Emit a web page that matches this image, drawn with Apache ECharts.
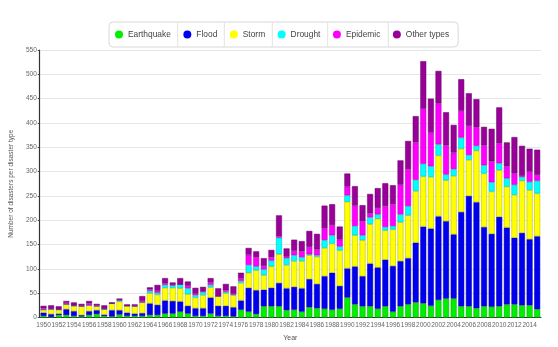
<!DOCTYPE html>
<html><head><meta charset="utf-8">
<script src="https://cdn.jsdelivr.net/npm/echarts@6/dist/echarts.min.js"></script>
<style>html,body{margin:0;padding:0;background:#fff}#c{width:558px;height:347px}</style>
</head><body><div id="c"></div>
<script>
const years = [];
for (let y = 1950; y <= 2015; y++) years.push(String(y));
const seriesNames = ['Earthquake','Flood','Storm','Drought','Epidemic','Other types'];
const earthquake = [3,1,5,5,3,2,5,7,3,2, 6,3,3,3,5,5,8,8,12,8, 3,3,8,3,3,2,16,12,7,23, 23,23,15,16,12,21,19,18,16,18, 41,27,23,23,18,23,12,23,27,31, 29,24,36,39,39,23,23,19,23,22, 23,27,27,25,25,17];
const flood = [7,6,3,12,10,3,8,8,3,13, 9,7,5,6,24,21,27,26,21,16, 16,16,33,21,21,19,19,49,49,34, 38,48,45,47,48,58,50,67,76,47, 60,78,62,88,85,96,94,93,95,123, 158,159,172,159,132,194,227,218,163,150, 184,158,137,149,136,150];
const storm = [6,10,8,10,11,18,12,8,11,14, 18,14,15,22,21,21,26,27,27,24, 22,27,21,20,26,25,36,31,41,30, 44,59,48,53,56,49,56,58,60,73, 137,64,74,81,100,60,75,80,88,106, 103,106,125,84,120,130,74,106,110,87, 96,84,88,107,101,88];
const drought = [0,0,0,0,0,0,0,0,0,0, 2,0,0,0,5,4,6,5,8,12, 5,6,5,0,3,1,4,16,8,12, 12,34,14,12,8,2,3,16,17,8, 13,19,10,14,9,7,7,16,19,23, 26,22,23,12,14,23,10,10,17,19, 14,17,21,8,17,26];
const epidemic = [3,1,1,3,1,1,4,2,1,0, 1,0,1,3,3,4,3,1,0,5, 3,2,5,0,3,2,5,21,19,7, 7,3,3,9,12,15,12,24,21,14, 18,42,29,8,13,43,45,61,76,77, 113,69,84,60,34,55,60,38,41,43, 41,25,23,2,21,12];
const other = [5,7,6,4,6,4,5,3,7,2, 3,3,3,10,4,12,11,5,13,9, 12,9,9,16,13,15,12,14,12,16, 15,43,17,23,21,33,32,47,43,27, 27,40,33,40,41,47,39,50,58,54, 98,70,67,68,57,65,67,58,38,67, 74,49,75,62,47,52];
const yTicks = {min: 0, max: 550, step: 50};

const colors = ['#00ee00','#0000f0','#ffff00','#00ffff','#ff00ff','#990099'];
const borders = ['#00a000','#00009a','#b0b000','#00b0b0','#b000b0','#600060'];
const values = [earthquake, flood, storm, drought, epidemic, other];

const chart = echarts.init(document.getElementById('c'));
const font = "'Liberation Sans', Arial, sans-serif";
chart.setOption({
  animation: false,
  textStyle: {fontFamily: font},
  color: colors,
  legend: {
    left: 109, top: 22,
    padding: [7, 9, 7, 6],
    itemGap: 12.5,
    itemWidth: 8, itemHeight: 8,
    icon: 'circle',
    itemStyle: {borderWidth: 0},
    borderColor: '#d8d8d8', borderWidth: 1, borderRadius: 4,
    backgroundColor: '#fff',
    textStyle: {fontSize: 8.4, color: '#444', fontFamily: font, lineHeight: 11},
    data: seriesNames
  },
  graphic: [177.7, 224.3, 272.3, 327.7, 388.3].map(x => ({
    type: 'line', shape: {x1: x, y1: 22, x2: x, y2: 47},
    style: {stroke: '#e2e2e2', lineWidth: 1}, z: 100
  })),
  grid: {left: 36, right: 17, top: 50, bottom: 29.5},
  xAxis: {
    type: 'category', data: years,
    name: 'Year', nameLocation: 'middle', nameGap: 17,
    nameTextStyle: {fontSize: 7, color: '#555'},
    axisLine: {lineStyle: {color: '#333', width: 1}},
    axisTick: {alignWithLabel: true, interval: 1, length: 3, lineStyle: {color: '#444'}},
    axisLabel: {interval: 1, fontSize: 6.5, color: '#666', margin: 4}
  },
  yAxis: {
    type: 'value', min: yTicks.min, max: yTicks.max, interval: yTicks.step,
    name: 'Number of disasters per disaster type', nameLocation: 'middle', nameGap: 24,
    nameTextStyle: {fontSize: 6.5, color: '#555'},
    axisLine: {show: true, lineStyle: {color: '#333', width: 1.2}},
    axisTick: {show: true, length: 2, lineStyle: {color: '#444'}},
    axisLabel: {fontSize: 6.5, color: '#666', margin: 3},
    splitLine: {lineStyle: {color: '#e6e6e6', width: 1}}
  },
  series: seriesNames.map((n, i) => ({
    name: n, type: 'bar', stack: 'all', data: values[i],
    barCategoryGap: '22%',
    itemStyle: {color: colors[i], borderColor: borders[i], borderWidth: 0.5}
  }))
});
</script></body></html>
